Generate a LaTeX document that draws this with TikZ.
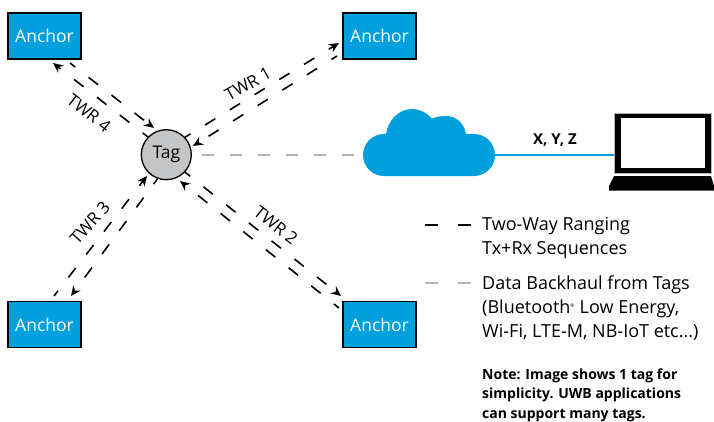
\documentclass[tikz,border=0pt]{standalone}
\usepackage{fontspec}
\setmainfont{Open Sans}
\usetikzlibrary{positioning,calc,arrows.meta}
\definecolor{uwbblue}{RGB}{0,160,223}
\definecolor{tagfill}{RGB}{196,197,199}
\definecolor{backhaul}{RGB}{180,180,180}
\tikzset{
  figfont/.style={font=\fontsize{17.5}{24}\selectfont},
  anchorbox/.style={draw=black, line width=1.2pt, fill=uwbblue, text=white, minimum width=73pt, minimum height=46pt, inner sep=0pt},
  tagdot/.style={circle, draw=black, line width=1.3pt, fill=tagfill, minimum size=50pt, inner sep=0pt},
  twrlabel/.style={font=\fontsize{17}{18}\selectfont, inner sep=0pt},
  twrline/.style={line width=1.6pt, dash pattern=on 12pt off 17pt, dash phase=5.5pt, -{Stealth[length=10pt,width=9pt]}},
  graydash/.style={draw=backhaul, line width=1.8pt, dash pattern=on 12pt off 16pt},
  legendblack/.style={line width=1.8pt, dash pattern=on 13pt off 19.7pt},
  legendgray/.style={legendblack, draw=backhaul},
  legendtext/.style={anchor=north west, inner sep=0pt, align=left, font=\fontsize{18}{24}\selectfont},
}
\begin{document}
\begin{tikzpicture}[figfont, x=1pt, y=1pt]
	\useasboundingbox (0,0) rectangle (714,421);

	% Anchors and tag
	\node[anchorbox] (anchorNW) at (44.5,385) {Anchor};
	\node[anchorbox] (anchorNE) at (379.5,385) {Anchor};
	\node[anchorbox] (anchorSW) at (44.5,96.5) {Anchor};
	\node[anchorbox] (anchorSE) at (379.5,96.5) {Anchor};
	\node[tagdot] (tag) at (166.3,266.3) {Tag};

	% Free ends of the ranging lines
	\coordinate (oneOut) at (339,378);
	\coordinate (oneBack) at (337,365);
	\coordinate (oneIn) at (193,275);
	\coordinate (twoBack) at (339,113);
	\coordinate (twoIn) at (180,240);
	\coordinate (twoOut) at (341,125);
	\coordinate (threeBack) at (54,125);
	\coordinate (threeIn) at (147,245);
	\coordinate (threeOut) at (71,125);
	\coordinate (fourOut) at (53,358);
	\coordinate (fourBack) at (70,358);
	\coordinate (fourIn) at (154,293);

	% Two-way ranging pairs
	\draw[twrline] (tag.43) -- (oneOut);
	\draw[twrline] (oneBack) -- (oneIn);
	\draw[twrline] (twoBack) -- (twoIn);
	\draw[twrline] (tag.-43) -- (twoOut);
	\draw[twrline] (threeBack) -- (threeIn);
	\draw[twrline] (tag.250) -- (threeOut);
	\draw[twrline] (tag.136) -- (fourOut);
	\draw[twrline] (fourBack) -- (fourIn);
	\node[twrlabel, rotate=29] (twrOne) at (248,337) {TWR 1};
	\node[twrlabel, rotate=-38] (twrTwo) at (276,196) {TWR 2};
	\node[twrlabel, rotate=48] (twrThree) at (90,198) {TWR 3};
	\node[twrlabel, rotate=-38] (twrFour) at (89,308) {TWR 4};

	% Cloud
	\fill[uwbblue] (384,245) -- (474,245) arc[start angle=-90, end angle=90, radius=21]
		-- (466,287) .. controls (464,298) and (456,305) .. (446,305)
		.. controls (441,305) and (436,304) .. (432,302.5)
		.. controls (427,308) and (420,312) .. (412,312)
		.. controls (398,312) and (388,300) .. (386,287)
		-- (384,287) arc[start angle=90, end angle=270, radius=21] -- cycle;
	\coordinate (cloudW) at (362.7,266.3);
	\coordinate (cloudE) at (495,266.3);

	% Laptop
	\node[draw=gray!60, line width=0.4pt, fill=black, minimum width=97pt, minimum height=59.4pt, inner sep=0pt] (laptop) at (663.1,278) {};
	\node[fill=white, minimum width=83.3pt, minimum height=50.6pt, inner sep=0pt] (screen) at (laptop) {};
	\fill (614,245) -- (711,245) -- (714,235) -- (714,230.3) -- (609,230.3) -- (609,235) -- cycle;

	% Links to the cloud and the laptop
	\draw[graydash, shorten <=10.5pt, shorten >=8.7pt] (tag) -- (cloudW);
	\draw[draw=uwbblue, line width=1.8pt] (cloudE) -- (cloudE -| laptop.west);
	\node[font=\fontsize{15}{18}\selectfont\bfseries, inner sep=0pt] (xyz) at (555,281) {X, Y, Z};

	% Legend
	\coordinate (legendA) at (425,196);
	\coordinate (legendB) at (470.7,196);
	\coordinate (legendC) at (425,137.7);
	\coordinate (legendD) at (470.7,137.7);
	\draw[legendblack] (legendA) -- (legendB);
	\draw[legendgray] (legendC) -- (legendD);
	\node[legendtext] (legendOne) at (482,203.5) {Two-Way Ranging\\Tx+Rx Sequences};
	\node[legendtext] (legendTwo) at (482,145) {Data Backhaul from Tags\\(Bluetooth\textsuperscript{\tiny®} Low Energy,\\Wi-Fi, LTE-M, NB-IoT etc...)};
	\node[legendtext, font=\fontsize{14}{19.5}\selectfont\bfseries] (note) at (482,52.5) {Note: Image shows 1 tag for\\simplicity. UWB applications\\can support many tags.};
\end{tikzpicture}
\end{document}
